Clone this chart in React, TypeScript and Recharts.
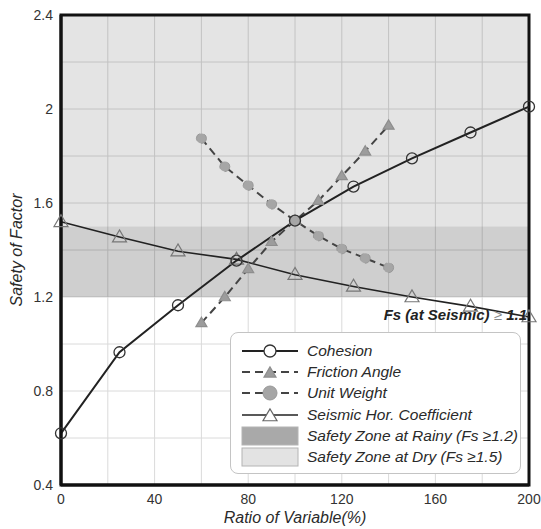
import React from 'react'
import {
  LineChart, Line, XAxis, YAxis, CartesianGrid, ReferenceArea, ReferenceDot,
} from 'recharts'

const FONT = '"Liberation Sans", Arial, Helvetica, sans-serif'

// ratio steps for each group of variables
const ratioWide = [0, 25, 50, 75, 100, 125, 150, 175, 200]
const ratioNarrow = [60, 70, 80, 90, 100, 110, 120, 130, 140]

const cohesion = [0.62, 0.965, 1.165, 1.355, 1.525, 1.67, 1.79, 1.9, 2.01]
const seismicCoef = [1.52, 1.455, 1.395, 1.36, 1.295, 1.245, 1.2, 1.16, 1.115]
const frictionAngle = [1.09, 1.2, 1.32, 1.435, 1.525, 1.61, 1.715, 1.82, 1.93]
const unitWeight = [1.875, 1.755, 1.675, 1.595, 1.525, 1.46, 1.405, 1.365, 1.325]

const xTicks = [0, 20, 40, 60, 80, 100, 120, 140, 160, 180, 200]
const yTicks = [0.4, 0.6, 0.8, 1, 1.2, 1.4, 1.6, 1.8, 2, 2.2, 2.4]
const xLabelled = [0, 40, 80, 120, 160, 200]
const yLabelled = [0.4, 0.8, 1.2, 1.6, 2, 2.4]

const rainyZone = [1.2, 1.5]
const dryZone = [1.5, 2.4]
const seismicLimit = 1.1

const toRows = (xs: number[], ys: number[]) => xs.map((x, i) => ({ x, y: ys[i] }))

const Triangle = ({ cx, cy, fill, stroke, size = 6 }: any) => {
  if (cx == null || cy == null) return null
  const h = size * 1.7
  return (
    <polygon
      points={`${cx},${cy - h * 0.6} ${cx - size},${cy + h * 0.4} ${cx + size},${cy + h * 0.4}`}
      fill={fill} stroke={stroke} strokeWidth={1.2}
    />
  )
}

const legendItems = [
  { name: 'Cohesion', kind: 'line' },
  { name: 'Friction Angle', kind: 'line' },
  { name: 'Unit Weight', kind: 'line' },
  { name: 'Seismic Hor. Coefficient', kind: 'line' },
  { name: 'Safety Zone at Rainy (Fs \u22651.2)', kind: 'box' },
  { name: 'Safety Zone at Dry (Fs \u22651.5)', kind: 'box' },
]

const LegendSample = ({ i }: { i: number }) => {
  const w = 58
  const h = 20
  const m = h / 2
  if (i === 0) return (
    <svg width={w} height={h}>
      <line x1={1} x2={w - 1} y1={m} y2={m} stroke="#222" strokeWidth={2} />
      <circle cx={w / 2} cy={m} r={6} fill="#fff" stroke="#333" strokeWidth={1.3} />
    </svg>
  )
  if (i === 1) return (
    <svg width={w} height={h}>
      <line x1={1} x2={w - 1} y1={m} y2={m} stroke="#444" strokeWidth={2} strokeDasharray="8 5" />
      <Triangle cx={w / 2} cy={m + 1} fill="#9c9c9c" stroke="#8e8e8e" size={6} />
    </svg>
  )
  if (i === 2) return (
    <svg width={w} height={h}>
      <line x1={1} x2={w - 1} y1={m} y2={m} stroke="#444" strokeWidth={2} strokeDasharray="8 5" />
      <circle cx={w / 2} cy={m} r={7} fill="#a6a6a6" stroke="#999" />
    </svg>
  )
  if (i === 3) return (
    <svg width={w} height={h}>
      <line x1={1} x2={w - 1} y1={m} y2={m} stroke="#222" strokeWidth={1.6} />
      <Triangle cx={w / 2} cy={m + 1} fill="#fff" stroke="#666" size={7} />
    </svg>
  )
  return (
    <svg width={w} height={h}>
      <rect x={1} y={1} width={w - 2} height={h - 2}
        fill={i === 4 ? '#a9a9a9' : '#e3e3e3'} stroke="#b4b4b4" />
    </svg>
  )
}

const LegendBox = () => (
  <div style={{
    position: 'absolute', left: 230, top: 332, width: 291, height: 142,
    background: '#fff', border: '1px solid #c4c4c4', borderRadius: 8,
    boxSizing: 'border-box', padding: '7px 0 0 10px', fontFamily: FONT,
  }}>
    {legendItems.map((item, i) => (
      <div key={item.name} style={{ display: 'flex', alignItems: 'center', height: 21.3 }}>
        <LegendSample i={i} />
        <span style={{ marginLeft: 8, fontSize: 15.5, fontStyle: 'italic', color: '#2a2a2a', whiteSpace: 'nowrap' }}>
          {item.name}
        </span>
      </div>
    ))}
  </div>
)

if (typeof document !== 'undefined') document.body.style.margin = '0'

export default function App() {
  return (
    <div style={{ position: 'relative', width: 541, height: 529, background: '#fff', fontFamily: FONT }}>
      <LineChart width={541} height={529} margin={{ top: 15, right: 12, bottom: 0, left: 0 }}>
        <CartesianGrid stroke="#dadada" strokeWidth={1} />
        <ReferenceArea y1={dryZone[0]} y2={dryZone[1]} x1={0} x2={200} fill="#000" fillOpacity={0.105} stroke="none" />
        <ReferenceArea y1={rainyZone[0]} y2={rainyZone[1]} x1={0} x2={200} fill="#000" fillOpacity={0.19} stroke="none" />
        <XAxis
          type="number" dataKey="x" domain={[0, 200]} ticks={xTicks} allowDuplicatedCategory={false}
          height={44} tickSize={0} tickMargin={9} axisLine={{ stroke: '#111', strokeWidth: 3 }} tickLine={false}
          tick={{ fontSize: 14, fill: '#333', fontFamily: FONT }}
          tickFormatter={(v: number) => (xLabelled.includes(v) ? String(v) : '')}
          label={{
            content: ({ viewBox }: any) => (
              <text x={viewBox.x + viewBox.width / 2} y={523} textAnchor="middle"
                fontSize={16} fontStyle="italic" fill="#2a2a2a" fontFamily={FONT}>
                Ratio of Variable(%)
              </text>
            ),
          }}
        />
        <YAxis
          type="number" domain={[0.4, 2.4]} ticks={yTicks} width={61}
          tickSize={0} tickMargin={8} axisLine={{ stroke: '#111', strokeWidth: 3 }} tickLine={false}
          tick={{ fontSize: 14, fill: '#333', fontFamily: FONT }}
          tickFormatter={(v: number) => (yLabelled.some(t => Math.abs(t - v) < 1e-6) ? String(v) : '')}
          label={{
            content: ({ viewBox }: any) => {
              const cy = viewBox.y + viewBox.height / 2
              return (
                <text x={16} y={cy} textAnchor="middle" dominantBaseline="central"
                  transform={`rotate(-90 16 ${cy})`}
                  fontSize={16} fontStyle="italic" fill="#2a2a2a" fontFamily={FONT}>
                  Safety of Factor
                </text>
              )
            },
          }}
        />
        <ReferenceArea x1={0} x2={200} y1={0.4} y2={2.4} fill="none" stroke="#111" strokeWidth={3} />

        <Line
          data={toRows(ratioWide, seismicCoef)} dataKey="y" name="Seismic Hor. Coefficient"
          stroke="#222" strokeWidth={1.6} isAnimationActive={false}
          dot={(p: any) => <Triangle key={`s${p.index}`} cx={p.cx} cy={p.cy} fill="none" stroke="#777" size={7} />}
        />
        <Line
          data={toRows(ratioNarrow, frictionAngle)} dataKey="y" name="Friction Angle"
          stroke="#444" strokeWidth={2} strokeDasharray="8 5" isAnimationActive={false}
          dot={(p: any) => <Triangle key={`f${p.index}`} cx={p.cx} cy={p.cy} fill="#9c9c9c" stroke="#8e8e8e" size={5.5} />}
        />
        <Line
          data={toRows(ratioNarrow, unitWeight)} dataKey="y" name="Unit Weight"
          stroke="#444" strokeWidth={2} strokeDasharray="8 5" isAnimationActive={false}
          dot={{ r: 5, fill: '#a6a6a6', stroke: '#999', strokeWidth: 1 }}
        />
        <Line
          data={toRows(ratioWide, cohesion)} dataKey="y" name="Cohesion"
          stroke="#222" strokeWidth={2} isAnimationActive={false}
          dot={{ r: 5.5, fill: 'none', stroke: '#333', strokeWidth: 1.3 }}
        />

        <ReferenceDot
          x={200} y={seismicLimit + 0.02} r={1} fill="none" stroke="none"
          label={{
            content: ({ viewBox }: any) => (
              <text x={viewBox.x - 1} y={viewBox.y + 5} textAnchor="end"
                fontSize={15} fontWeight="bold" fontStyle="italic" fill="#222" fontFamily={FONT}>
                Fs (at Seismic)
                <tspan fill="#888" fontWeight="normal"> {'\u2265'} </tspan>
                1.1
              </text>
            ),
          }}
        />
      </LineChart>
      <LegendBox />
    </div>
  )
}
